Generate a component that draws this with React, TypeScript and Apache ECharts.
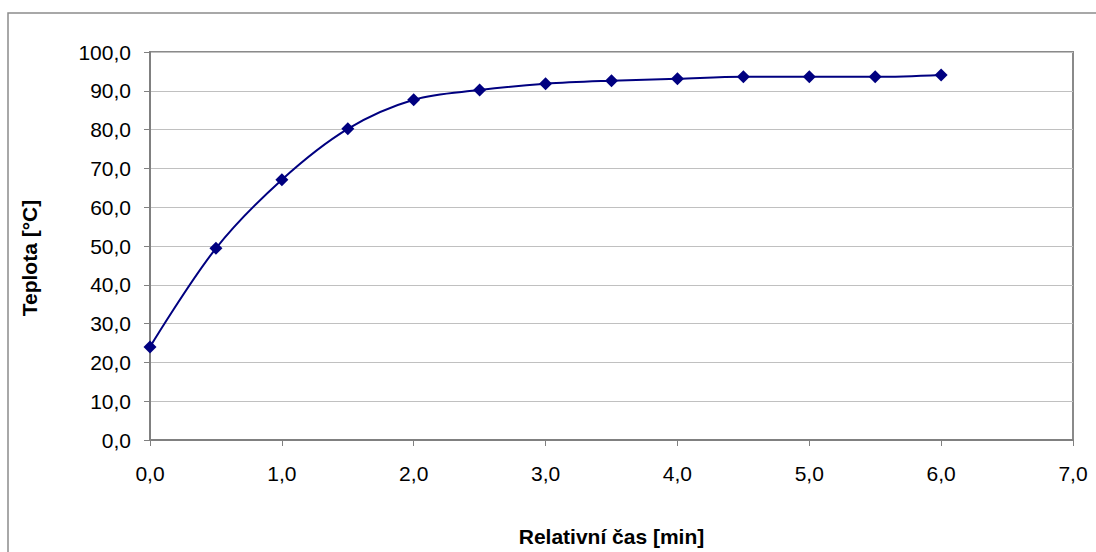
import React, { useEffect, useRef } from "react";
import * as echarts from "echarts";

const times = [0, 0.5, 1.0, 1.5, 2.0, 2.5, 3.0, 3.5, 4.0, 4.5, 5.0, 5.5, 6.0];
const temps = [24.0, 49.4, 67.1, 80.2, 87.7, 90.2, 91.8, 92.6, 93.1, 93.6, 93.6, 93.6, 94.1];
const xTitle = "Relativní čas [min]";
const yTitle = "Teplota [°C]";

const fmt = (v: number) => v.toFixed(1).replace(".", ",");

export default function App() {
  const ref = useRef<HTMLDivElement>(null);
  useEffect(() => {
    if (!ref.current) return;
    const chart = echarts.init(ref.current, undefined, { renderer: "svg" });
    const font = "'Liberation Sans', Arial, sans-serif";
    chart.setOption({
      animation: false,
      backgroundColor: "#ffffff",
      textStyle: { fontFamily: font },
      graphic: [
        {
          type: "rect",
          shape: { x: 8, y: 13, width: 1200, height: 700 },
          style: { fill: "none", stroke: "#8c8c8c", lineWidth: 1.5 },
          silent: true,
          z: -10,
        },
        {
          type: "text",
          x: 29,
          y: 258,
          rotation: Math.PI / 2,
          style: {
            text: yTitle,
            fontSize: 21,
            fontWeight: "bold",
            fontFamily: font,
            fill: "#000",
            align: "center",
            verticalAlign: "middle",
          },
        },
      ],
      grid: {
        left: 150,
        top: 52,
        right: 23,
        bottom: 111,
        show: true,
        borderColor: "#8a8a8a",
        borderWidth: 2,
      },
      xAxis: {
        type: "value",
        min: 0,
        max: 7,
        interval: 1,
        name: xTitle,
        nameLocation: "middle",
        nameGap: 86,
        nameTextStyle: { fontSize: 21, fontWeight: "bold", color: "#000", fontFamily: font },
        axisLine: { show: true, lineStyle: { color: "#808080", width: 2 } },
        axisTick: { show: true, length: 6, lineStyle: { color: "#808080", width: 1 } },
        axisLabel: {
          formatter: fmt,
          fontSize: 21,
          color: "#000",
          margin: 23,
          fontFamily: font,
        },
        splitLine: { show: false },
      },
      yAxis: {
        type: "value",
        min: 0,
        max: 100,
        interval: 10,
        axisLine: { show: true, lineStyle: { color: "#808080", width: 2 } },
        axisTick: { show: true, length: 6, lineStyle: { color: "#808080", width: 1 } },
        axisLabel: {
          formatter: fmt,
          fontSize: 21,
          color: "#000",
          margin: 19,
          fontFamily: font,
        },
        splitLine: { show: true, lineStyle: { color: "#c0c0c0", width: 1 } },
      },
      series: [
        {
          type: "line",
          data: times.map((t, i) => [t, temps[i]]),
          smooth: 0.35,
          symbol: "diamond",
          symbolSize: 13,
          itemStyle: { color: "#000080" },
          lineStyle: { color: "#000080", width: 2 },
        },
      ],
    });
    return () => chart.dispose();
  }, []);
  return (
    <div
      ref={ref}
      style={{ position: "fixed", left: 0, top: 0, width: 1096, height: 552 }}
    />
  );
}
